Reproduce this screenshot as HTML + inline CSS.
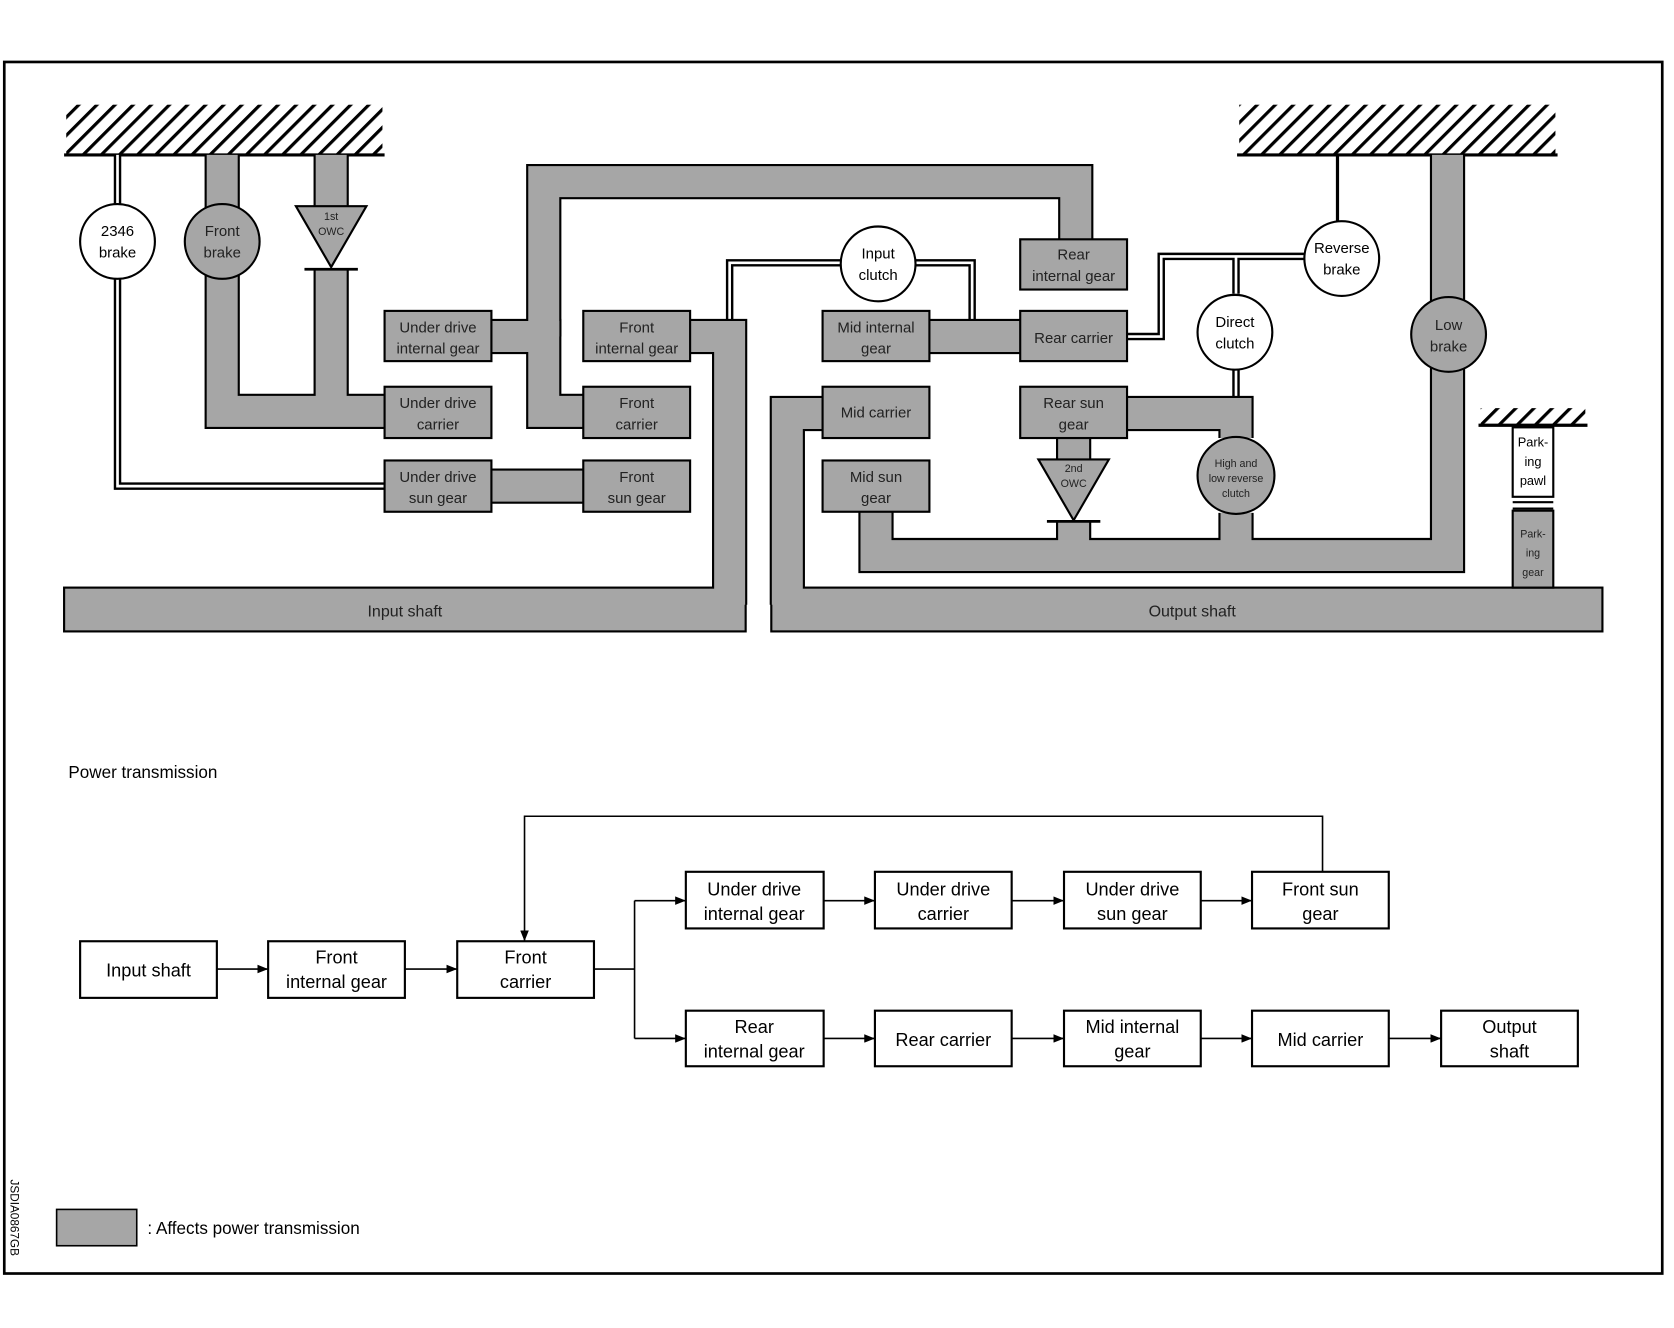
<!DOCTYPE html>
<html><head><meta charset="utf-8"><style>
html,body{margin:0;padding:0;background:#fff;}
svg{display:block;}
text{font-family:"Liberation Sans",Arial,sans-serif;}
</style></head><body>
<svg width="1674" height="1328" viewBox="0 0 1567 1243" preserveAspectRatio="none" xmlns="http://www.w3.org/2000/svg">
<defs>
<pattern id="hat" width="12" height="12" patternUnits="userSpaceOnUse" patternTransform="rotate(45)">
<rect width="12" height="12" fill="#fff"/><rect x="0" y="0" width="3" height="12" fill="#000"/>
</pattern>
<g id="bands">
<path d="M208,145 V385 H360"/>
<path d="M310,145 V195"/>
<path d="M310,252 V385"/>
<path d="M460,315 H509 V385 H546"/>
<path d="M509,315 V170 H1007 V224"/>
<path d="M460,455 H546"/>
<path d="M646,315 H683 V566"/>
<path d="M870,315 H955"/>
<path d="M1055,387 H1157 V410"/>
<path d="M1157,480 V520"/>
<path d="M820,479 V520 H1355 V145"/>
<path d="M1005,410 V432"/>
<path d="M1005,488 V520"/>
<path d="M770,387 H737 V566"/>
</g>
<g id="dbl">
<path d="M110,145 V191 M110,261 V455 H360"/>
<path d="M683,300 V246 H787 M857,246 H910 V300"/>
<path d="M1055,315 H1087 V240 H1221 M1157,240 V275 M1157,345 V372"/>
</g>
<marker id="ar" markerWidth="10" markerHeight="8" refX="10" refY="4" orient="auto" markerUnits="userSpaceOnUse"><path d="M0,0 L10,4 L0,8 z" fill="#000"/></marker>
</defs>
<rect x="4" y="58" width="1552" height="1134" fill="none" stroke="#000" stroke-width="2.5"/>
<rect x="62" y="98" width="296" height="46" fill="url(#hat)"/><line x1="60" y1="145" x2="360" y2="145" stroke="#000" stroke-width="3"/>
<rect x="1160" y="98" width="296" height="46" fill="url(#hat)"/><line x1="1158" y1="145" x2="1458" y2="145" stroke="#000" stroke-width="3"/>
<rect x="1386" y="382" width="98" height="15" fill="url(#hat)"/><line x1="1384" y1="398" x2="1486" y2="398" stroke="#000" stroke-width="3"/>
<use href="#dbl" fill="none" stroke="#000" stroke-width="7"/>
<use href="#dbl" fill="none" stroke="#fff" stroke-width="2.5"/>
<line x1="1252" y1="145" x2="1252" y2="207" stroke="#000" stroke-width="3"/>
<use href="#bands" fill="none" stroke="#000" stroke-width="33"/>
<rect x="60" y="550" width="638" height="41" fill="#a6a6a6" stroke="#000" stroke-width="2"/>
<rect x="722" y="550" width="778" height="41" fill="#a6a6a6" stroke="#000" stroke-width="2"/>
<use href="#bands" fill="none" stroke="#a6a6a6" stroke-width="29"/>
<g font-size="15" fill="#222" text-anchor="middle">
<text x="379" y="577">Input shaft</text><text x="1116" y="577">Output shaft</text>
</g>
<line x1="285" y1="252" x2="335" y2="252" stroke="#000" stroke-width="2.5"/>
<line x1="980" y1="488" x2="1030" y2="488" stroke="#000" stroke-width="2.5"/>
<polygon points="277,193 343,193 310,250" fill="#a6a6a6" stroke="#000" stroke-width="2"/>
<polygon points="972,430 1038,430 1005,487" fill="#a6a6a6" stroke="#000" stroke-width="2"/>
<g font-size="10" fill="#222" text-anchor="middle"><text x="310" y="206">1st</text><text x="310" y="220">OWC</text>
<text x="1005" y="442">2nd</text><text x="1005" y="456">OWC</text></g>
<g fill="#a6a6a6" stroke="#000" stroke-width="2">
<rect x="360" y="291" width="100" height="47"/><rect x="360" y="362" width="100" height="48"/><rect x="360" y="431" width="100" height="48"/>
<rect x="546" y="291" width="100" height="47"/><rect x="546" y="362" width="100" height="48"/><rect x="546" y="431" width="100" height="48"/>
<rect x="770" y="291" width="100" height="47"/><rect x="770" y="362" width="100" height="48"/><rect x="770" y="431" width="100" height="48"/>
<rect x="955" y="224" width="100" height="47"/><rect x="955" y="291" width="100" height="47"/><rect x="955" y="362" width="100" height="48"/>
<rect x="1416" y="478" width="38" height="72"/>
</g>
<rect x="1416" y="400" width="38" height="65" fill="#fff" stroke="#000" stroke-width="2"/>
<line x1="1416" y1="470" x2="1454" y2="470" stroke="#000" stroke-width="2"/><line x1="1416" y1="476" x2="1454" y2="476" stroke="#000" stroke-width="2"/>
<circle cx="110" cy="226" r="35" fill="#fff" stroke="#000" stroke-width="2"/>
<circle cx="208" cy="226" r="35" fill="#a6a6a6" stroke="#000" stroke-width="2"/>
<circle cx="822" cy="247" r="35" fill="#fff" stroke="#000" stroke-width="2"/>
<circle cx="1256" cy="242" r="35" fill="#fff" stroke="#000" stroke-width="2"/>
<circle cx="1156" cy="311" r="35" fill="#fff" stroke="#000" stroke-width="2"/>
<circle cx="1356" cy="313" r="35" fill="#a6a6a6" stroke="#000" stroke-width="2"/>
<circle cx="1157" cy="445" r="36" fill="#a6a6a6" stroke="#000" stroke-width="2"/>
<g font-size="14" fill="#222" text-anchor="middle">
<text x="410" y="311">Under drive</text><text x="410" y="331">internal gear</text>
<text x="410" y="382">Under drive</text><text x="410" y="402">carrier</text>
<text x="410" y="451">Under drive</text><text x="410" y="471">sun gear</text>
<text x="596" y="311">Front</text><text x="596" y="331">internal gear</text>
<text x="596" y="382">Front</text><text x="596" y="402">carrier</text>
<text x="596" y="451">Front</text><text x="596" y="471">sun gear</text>
<text x="820" y="311">Mid internal</text><text x="820" y="331">gear</text>
<text x="820" y="391">Mid carrier</text>
<text x="820" y="451">Mid sun</text><text x="820" y="471">gear</text>
<text x="1005" y="243">Rear</text><text x="1005" y="263">internal gear</text>
<text x="1005" y="321">Rear carrier</text>
<text x="1005" y="382">Rear sun</text><text x="1005" y="402">gear</text>
<text x="208" y="221">Front</text><text x="208" y="241">brake</text>
<text x="1356" y="309">Low</text><text x="1356" y="329">brake</text>
</g>
<g font-size="10" fill="#222" text-anchor="middle"><text x="1157" y="437">High and</text><text x="1157" y="451">low reverse</text><text x="1157" y="465">clutch</text>
<text x="1435" y="503">Park-</text><text x="1435" y="521">ing</text><text x="1435" y="539">gear</text></g>
<g font-size="14" fill="#000" text-anchor="middle">
<text x="110" y="221">2346</text><text x="110" y="241">brake</text>
<text x="822" y="242">Input</text><text x="822" y="262">clutch</text>
<text x="1256" y="237">Reverse</text><text x="1256" y="257">brake</text>
<text x="1156" y="306">Direct</text><text x="1156" y="326">clutch</text>
</g>
<g font-size="12" fill="#000" text-anchor="middle"><text x="1435" y="418">Park-</text><text x="1435" y="436">ing</text><text x="1435" y="454">pawl</text></g>
<text x="64" y="728" font-size="16">Power transmission</text>
<g fill="#fff" stroke="#000" stroke-width="2">
<rect x="75" y="881" width="128" height="53"/><rect x="251" y="881" width="128" height="53"/><rect x="428" y="881" width="128" height="53"/>
<rect x="642" y="816" width="129" height="53"/><rect x="819" y="816" width="128" height="53"/><rect x="996" y="816" width="128" height="53"/><rect x="1172" y="816" width="128" height="53"/>
<rect x="642" y="946" width="129" height="52"/><rect x="819" y="946" width="128" height="52"/><rect x="996" y="946" width="128" height="52"/><rect x="1172" y="946" width="128" height="52"/><rect x="1349" y="946" width="128" height="52"/>
</g>
<g fill="none" stroke="#000" stroke-width="1.5" marker-end="url(#ar)">
<path d="M203,907 H251"/><path d="M379,907 H428"/>
<path d="M594,843 H642"/><path d="M594,972 H642"/>
<path d="M771,843 H819"/><path d="M947,843 H996"/><path d="M1124,843 H1172"/>
<path d="M771,972 H819"/><path d="M947,972 H996"/><path d="M1124,972 H1172"/><path d="M1300,972 H1349"/>
<path d="M1238,816 V764 H491 V881"/>
</g>
<path d="M556,907 H594 M594,843 V972" fill="none" stroke="#000" stroke-width="1.5"/>
<g font-size="17" fill="#000" text-anchor="middle">
<text x="139" y="914">Input shaft</text>
<text x="315" y="902">Front</text><text x="315" y="925">internal gear</text>
<text x="492" y="902">Front</text><text x="492" y="925">carrier</text>
<text x="706" y="838">Under drive</text><text x="706" y="861">internal gear</text>
<text x="883" y="838">Under drive</text><text x="883" y="861">carrier</text>
<text x="1060" y="838">Under drive</text><text x="1060" y="861">sun gear</text>
<text x="1236" y="838">Front sun</text><text x="1236" y="861">gear</text>
<text x="706" y="967">Rear</text><text x="706" y="990">internal gear</text>
<text x="883" y="979">Rear carrier</text>
<text x="1060" y="967">Mid internal</text><text x="1060" y="990">gear</text>
<text x="1236" y="979">Mid carrier</text>
<text x="1413" y="967">Output</text><text x="1413" y="990">shaft</text>
</g>
<rect x="53" y="1132" width="75" height="34" fill="#a6a6a6" stroke="#000" stroke-width="1.5"/>
<text x="138" y="1155" font-size="16">: Affects power transmission</text>
<text transform="translate(10,1104) rotate(90)" font-size="11">JSDIA0867GB</text>
</svg>
</body></html>
